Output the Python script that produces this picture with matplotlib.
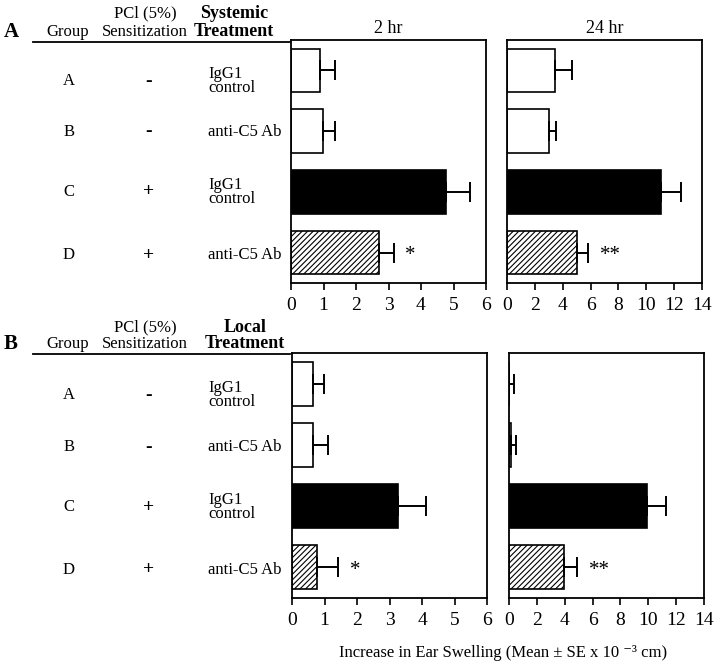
import matplotlib.pyplot as plt

plt.rcParams["font.family"] = ["Liberation Serif", "DejaVu Serif"]
plt.rcParams["hatch.linewidth"] = 0.8

# bar order top to bottom: groups A, B, C, D
groups = ["A", "B", "C", "D"]
sensitization = ["-", "-", "+", "+"]
treatments = ["IgG1\ncontrol", "anti-C5 Ab", "IgG1\ncontrol", "anti-C5 Ab"]
fills = ["white", "white", "black", "white"]
hatches = ["", "", "", "//////"]

sys_2hr_mean = [0.90, 0.97, 4.77, 2.72]
sys_2hr_se = [0.45, 0.38, 0.75, 0.44]
sys_24hr_mean = [3.42, 3.03, 11.06, 4.99]
sys_24hr_se = [1.24, 0.51, 1.41, 0.84]
loc_2hr_mean = [0.65, 0.66, 3.26, 0.76]
loc_2hr_se = [0.34, 0.45, 0.87, 0.67]
loc_24hr_mean = [0.03, 0.17, 9.90, 3.98]
loc_24hr_se = [0.31, 0.31, 1.40, 0.91]

stars_2hr = "*"
stars_24hr = "**"


def draw_bars(ax, means, ses, xmax, step, stars, title=None):
    ypos = list(range(len(means)))
    ax.barh(ypos, means, height=0.72, color=fills, edgecolor="black",
            linewidth=1.2, hatch=hatches, zorder=2)
    ax.errorbar(means, ypos, xerr=[[0] * len(ses), ses], fmt="none",
                ecolor="black", elinewidth=1.4, capsize=7.5, capthick=1.4,
                zorder=3)
    ax.text(means[3] + ses[3] + xmax * 0.06, 3.05, stars, ha="left",
            va="center", fontsize=15)
    ax.set_xlim(0, xmax)
    ax.set_ylim(3.5, -0.5)
    ax.set_yticks([])
    ax.set_xticks(range(0, xmax + 1, step))
    ax.tick_params(axis="x", direction="out", length=5, width=1.2,
                   labelsize=14, pad=5)
    for spine in ax.spines.values():
        spine.set_linewidth(1.3)
    if title:
        ax.set_title(title, fontsize=13, pad=5)


def draw_table(top_y, panel, header_top, rows_y, bold_first, bold_second,
               bold_x):
    fig.text(4 / 720, 1 - top_y / 666, panel, fontsize=15, weight="bold",
             ha="left", va="center")
    fig.text(68 / 720, 1 - top_y / 666, "Group", fontsize=12,
             ha="center", va="center")
    fig.text(145 / 720, 1 - header_top / 666, "PCl (5%)", fontsize=12,
             ha="center", va="center")
    fig.text(145 / 720, 1 - top_y / 666, "Sensitization", fontsize=12,
             ha="center", va="center")
    fig.text(bold_x / 720, 1 - header_top / 666, bold_first, fontsize=13,
             weight="bold", ha="center", va="center")
    fig.text(bold_x / 720, 1 - top_y / 666, bold_second, fontsize=13,
             weight="bold", ha="center", va="center")
    line_y = 1 - (top_y + 10) / 666
    fig.add_artist(plt.Line2D([33 / 720, 290 / 720], [line_y, line_y],
                              color="black", linewidth=1.3))
    for y, g, s, t in zip(rows_y, groups, sensitization, treatments):
        fig.text(69 / 720, 1 - y / 666, g, fontsize=12, ha="center",
                 va="center")
        fig.text(149 / 720, 1 - y / 666, s, fontsize=14, ha="center",
                 va="center", weight="bold")
        fig.text(208 / 720, 1 - y / 666, t, fontsize=12, ha="left",
                 va="center", linespacing=0.9)


fig = plt.figure(figsize=(7.2, 6.66), dpi=100)

ax1 = fig.add_axes([291 / 720, 1 - 283 / 666, 195 / 720, 243 / 666])
ax2 = fig.add_axes([507 / 720, 1 - 283 / 666, 195 / 720, 243 / 666])
ax3 = fig.add_axes([292 / 720, 1 - 598 / 666, 195 / 720, 245 / 666])
ax4 = fig.add_axes([509 / 720, 1 - 598 / 666, 195 / 720, 245 / 666])

draw_bars(ax1, sys_2hr_mean, sys_2hr_se, 6, 1, stars_2hr, "2 hr")
draw_bars(ax2, sys_24hr_mean, sys_24hr_se, 14, 2, stars_24hr, "24 hr")
draw_bars(ax3, loc_2hr_mean, loc_2hr_se, 6, 1, stars_2hr)
draw_bars(ax4, loc_24hr_mean, loc_24hr_se, 14, 2, stars_24hr)

draw_table(32, "A", 13, [81, 132, 192, 255], "Systemic", "Treatment", 234)
draw_table(344, "B", 327, [395, 447, 507, 570], "Local", "Treatment", 245)

fig.text(503 / 720, 1 - 653 / 666,
         "Increase in Ear Swelling (Mean \u00b1 SE x 10 \u207b\u00b3 cm)",
         fontsize=12, ha="center", va="center")

fig.savefig("out.png", dpi=100)
